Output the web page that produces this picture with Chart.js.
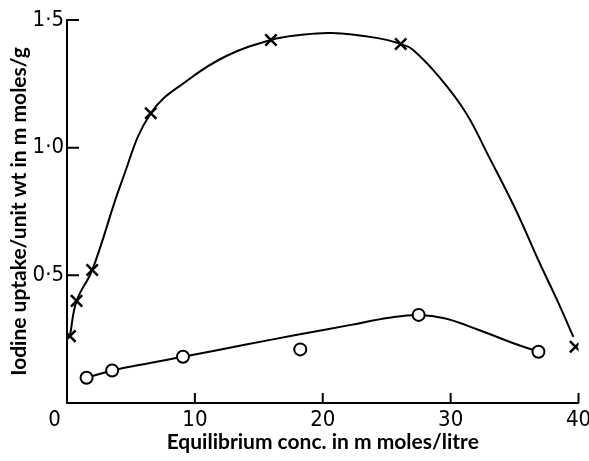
<!DOCTYPE html>
<html>
<head>
<meta charset="utf-8">
<script src="https://cdn.jsdelivr.net/npm/chart.js@4/dist/chart.umd.min.js"></script>
<style>
  html, body { margin: 0; padding: 0; background: #fff; }
  #wrap { width: 589px; height: 461px; }
</style>
</head>
<body>
<div id="wrap"><canvas id="c" width="589" height="461"></canvas></div>
<script>
// Marker data
const crossX = [0.23, 0.75, 1.97, 6.55, 15.95, 26.1, 39.77];
const crossY = [0.262, 0.40, 0.521, 1.135, 1.422, 1.406, 0.22];
const circleX = [1.53, 3.53, 9.07, 18.24, 27.5, 36.87];
const circleY = [0.099, 0.127, 0.181, 0.21, 0.345, 0.201];

// Hand-drawn fitted curves
const crossCurveX = [0.23, 0.75, 1.97, 4.3, 6.55, 9.6, 12.5, 15.95, 18.2, 20.7, 24.2, 26.1, 27.0, 29.1, 31.2, 33.0, 35.1, 36.9, 38.4, 39.6];
const crossCurveY = [0.262, 0.40, 0.52, 0.87, 1.135, 1.27, 1.36, 1.422, 1.441, 1.449, 1.43, 1.406, 1.385, 1.277, 1.136, 0.964, 0.756, 0.555, 0.395, 0.259];
const circleCurveX = [1.53, 3.53, 6.5, 9.07, 14, 18, 22.1, 25.2, 27.5, 29.6, 32.2, 35.3, 36.87];
const circleCurveY = [0.099, 0.127, 0.157, 0.181, 0.229, 0.267, 0.305, 0.334, 0.345, 0.331, 0.286, 0.227, 0.201];

const xTicks = [0, 10, 20, 30, 40];
const yTicks = [0, 0.5, 1.0, 1.5];
const xTitle = 'Equilibrium conc. in m moles/litre';
const yTitle = 'Iodine uptake/unit wt in m moles/g';

const zip = (xs, ys) => xs.map((x, i) => ({ x: x, y: ys[i] }));

const tickFont = { family: "'Liberation Sans Narrow', 'DejaVu Sans Condensed', sans-serif", size: 22 };
const titleFont = { family: "Lato, 'Open Sans', sans-serif", size: 21, weight: 'bold' };

const inwardTicks = {
  id: 'inwardTicks',
  afterDraw(chart) {
    const ctx = chart.ctx;
    const xs = chart.scales.x, ys = chart.scales.y;
    ctx.save();
    ctx.strokeStyle = '#000';
    ctx.lineWidth = 2;
    ctx.beginPath();
    xTicks.forEach(v => {
      if (v === 0) return;
      const px = xs.getPixelForValue(v);
      ctx.moveTo(px, ys.bottom);
      ctx.lineTo(px, ys.bottom - 10);
    });
    yTicks.forEach(v => {
      if (v === 0) return;
      const py = ys.getPixelForValue(v);
      ctx.moveTo(xs.left, py);
      ctx.lineTo(xs.left + 12, py);
    });
    ctx.stroke();
    ctx.restore();
  }
};

new Chart(document.getElementById('c'), {
  type: 'scatter',
  data: {
    datasets: [
      {
        data: zip(crossX, crossY),
        pointStyle: 'crossRot', pointRadius: 8, pointHoverRadius: 8,
        borderColor: '#000', backgroundColor: '#000', pointBorderWidth: 2.5,
        showLine: false
      },
      {
        data: zip(circleX, circleY),
        pointStyle: 'circle', pointRadius: 6, pointHoverRadius: 6,
        borderColor: '#000', backgroundColor: '#fff', pointBorderWidth: 2,
        showLine: false
      },
      {
        data: zip(crossCurveX, crossCurveY),
        showLine: true, pointRadius: 0, borderColor: '#000', borderWidth: 2,
        tension: 0.4, fill: false
      },
      {
        data: zip(circleCurveX, circleCurveY),
        showLine: true, pointRadius: 0, borderColor: '#000', borderWidth: 2,
        tension: 0.4, fill: false
      }
    ]
  },
  options: {
    responsive: false,
    animation: false,
    events: [],
    layout: { padding: { top: 20, right: 9, left: 0, bottom: 0 } },
    plugins: { legend: { display: false }, tooltip: { enabled: false } },
    scales: {
      x: {
        type: 'linear', min: 0, max: 40,
        afterBuildTicks(s) { s.ticks = xTicks.map(v => ({ value: v })); },
        afterFit(s) { s.height = 58; s.paddingLeft = 0; s.paddingRight = 0; },
        border: { display: true, color: '#000', width: 2 },
        grid: { display: true, drawOnChartArea: false, drawTicks: false },
        ticks: {
          color: '#000', font: tickFont, padding: 4, maxRotation: 0, autoSkip: false,
          callback: v => v === 0 ? '0    ' : String(v)
        },
        title: { display: true, text: xTitle, color: '#000', font: titleFont, padding: { top: 0, bottom: 6 } }
      },
      y: {
        type: 'linear', min: 0, max: 1.5,
        afterBuildTicks(s) { s.ticks = yTicks.map(v => ({ value: v })); },
        afterFit(s) { s.width = 67; s.paddingTop = 0; s.paddingBottom = 0; },
        border: { display: true, color: '#000', width: 2 },
        grid: { display: true, drawOnChartArea: false, drawTicks: false },
        ticks: {
          color: '#000', font: tickFont, padding: 3, autoSkip: false,
          callback: v => v === 0 ? '' : v.toFixed(1).replace('.', '\u00B7')
        },
        title: { display: true, text: yTitle, color: '#000', font: titleFont, padding: { top: 7, bottom: 0 } }
      }
    }
  },
  plugins: [inwardTicks]
});
</script>
</body>
</html>
